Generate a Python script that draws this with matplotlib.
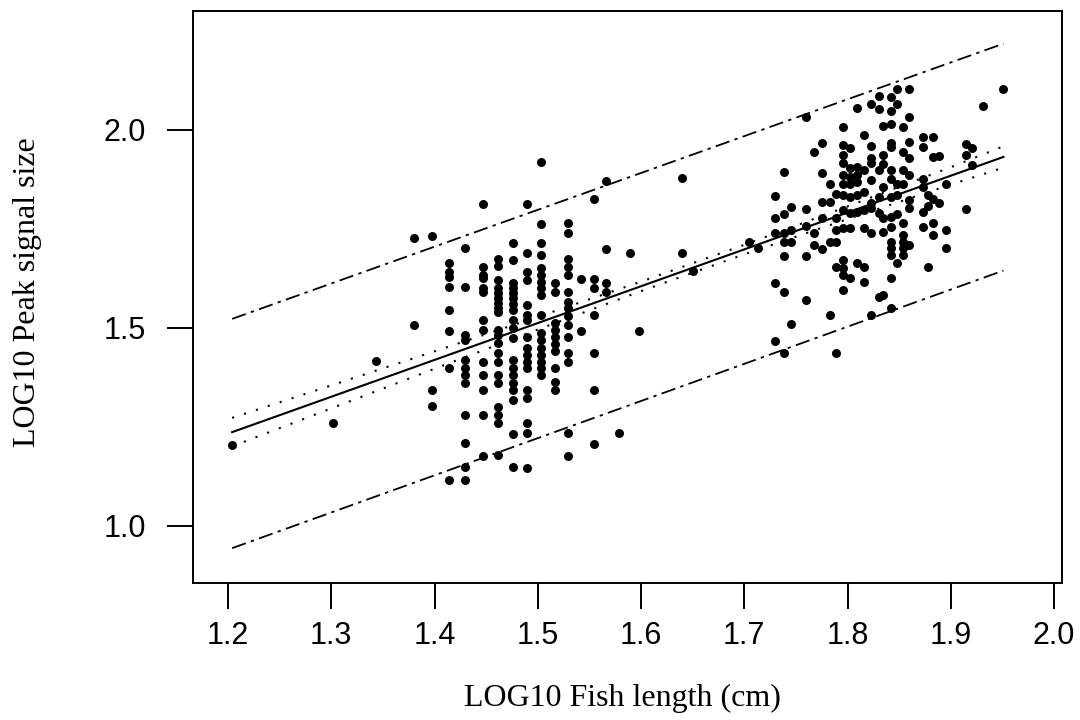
import matplotlib
matplotlib.use('Agg')
import matplotlib.pyplot as plt
import numpy as np

# log10 fish length columns and the log10 peak signal values read in each column
small_len = [1.204, 1.302, 1.343, 1.380, 1.398, 1.414, 1.430, 1.447, 1.461, 1.476,
             1.490, 1.503, 1.517, 1.529, 1.542, 1.554, 1.566, 1.579, 1.589, 1.598,
             1.640, 1.650]
small_sig = [
    [1.205],
    [1.260],
    [1.417],
    [1.727, 1.507],
    [1.732, 1.343, 1.303],
    [1.664, 1.641, 1.629, 1.604, 1.545, 1.492, 1.399, 1.116],
    [1.702, 1.604, 1.482, 1.470, 1.419, 1.400, 1.381, 1.361, 1.280, 1.210, 1.149, 1.116],
    [1.813, 1.655, 1.634, 1.626, 1.601, 1.591, 1.520, 1.495, 1.415, 1.381, 1.343, 1.280, 1.177],
    [1.674, 1.657, 1.621, 1.601, 1.588, 1.576, 1.563, 1.550, 1.540, 1.495, 1.482, 1.462,
     1.437, 1.414, 1.381, 1.361, 1.301, 1.280, 1.260, 1.179],
    [1.715, 1.672, 1.614, 1.601, 1.588, 1.576, 1.560, 1.545, 1.520, 1.500, 1.475, 1.419,
     1.400, 1.381, 1.362, 1.343, 1.318, 1.232, 1.149],
    [1.813, 1.689, 1.641, 1.621, 1.558, 1.533, 1.520, 1.477, 1.450, 1.432, 1.414, 1.398,
     1.343, 1.323, 1.260, 1.235, 1.146],
    [1.919, 1.763, 1.715, 1.684, 1.651, 1.634, 1.616, 1.601, 1.583, 1.533, 1.487, 1.470,
     1.450, 1.432, 1.414, 1.398, 1.381],
    [1.614, 1.591, 1.513, 1.495, 1.477, 1.460, 1.443, 1.399, 1.364, 1.343],
    [1.765, 1.740, 1.674, 1.654, 1.634, 1.591, 1.566, 1.550, 1.530, 1.508, 1.477, 1.437,
     1.414, 1.235, 1.177],
    [1.624, 1.492],
    [1.825, 1.624, 1.601, 1.533, 1.437, 1.343, 1.207],
    [1.870, 1.699, 1.614, 1.591],
    [1.235],
    [1.689],
    [1.493],
    [1.880, 1.689],
    [1.644],
]

large_len = [1.705, 1.713, 1.730, 1.738, 1.745, 1.760, 1.768, 1.775, 1.783, 1.789,
             1.796, 1.802, 1.809, 1.816, 1.823, 1.830, 1.834, 1.842, 1.848, 1.854,
             1.860, 1.873, 1.878, 1.883, 1.889, 1.895, 1.915, 1.921, 1.931, 1.951]
large_sig = [
    [1.716],
    [1.701],
    [1.833, 1.779, 1.741, 1.614, 1.467],
    [1.893, 1.787, 1.741, 1.716, 1.682, 1.592, 1.437],
    [1.806, 1.747, 1.716, 1.509],
    [2.032, 1.800, 1.758, 1.682, 1.571],
    [1.944, 1.741, 1.710],
    [1.968, 1.892, 1.819, 1.777, 1.699],
    [1.863, 1.819, 1.716, 1.533],
    [1.838, 1.777, 1.747, 1.716, 1.653, 1.437],
    [2.007, 1.962, 1.937, 1.916, 1.886, 1.864, 1.836, 1.798, 1.752, 1.672, 1.651, 1.634, 1.596],
    [1.954, 1.903, 1.882, 1.864, 1.832, 1.790, 1.752, 1.626],
    [2.056, 1.906, 1.886, 1.869, 1.836, 1.794, 1.665],
    [1.987, 1.899, 1.844, 1.798, 1.752, 1.655, 1.617],
    [2.065, 1.960, 1.929, 1.916, 1.874, 1.815, 1.802, 1.739, 1.533],
    [2.087, 2.053, 1.899, 1.832, 1.790, 1.579],
    [2.010, 1.937, 1.914, 1.857, 1.777, 1.743, 1.583],
    [2.084, 2.048, 2.014, 1.968, 1.956, 1.899, 1.876, 1.832, 1.781, 1.756, 1.718, 1.701,
     1.684, 1.626, 1.550],
    [2.103, 2.066, 1.864, 1.836, 1.788, 1.663],
    [2.008, 1.945, 1.899, 1.864, 1.764, 1.735, 1.718, 1.701, 1.684],
    [2.103, 2.032, 1.970, 1.929, 1.886, 1.823, 1.802, 1.710],
    [1.983, 1.956, 1.876, 1.857, 1.794, 1.756],
    [1.836, 1.808, 1.655],
    [1.983, 1.933, 1.825, 1.766, 1.735],
    [1.934, 1.815],
    [1.864, 1.747, 1.701],
    [1.965, 1.937, 1.801],
    [1.954, 1.912],
    [2.061],
    [2.103],
]

# regression line and bands
fit_x = [1.204, 1.951]
fit_y = [1.237, 1.932]
conf_x = [1.204, 1.3, 1.4, 1.5, 1.6, 1.7, 1.8, 1.9, 1.951]
conf_hi = [1.273, 1.355, 1.441, 1.528, 1.617, 1.710, 1.807, 1.906, 1.959]
conf_lo = [1.201, 1.297, 1.397, 1.496, 1.593, 1.686, 1.775, 1.862, 1.905]
pred_x = [1.204, 1.951]
pred_hi = [1.523, 2.218]
pred_lo = [0.944, 1.645]

xticks = [1.2, 1.3, 1.4, 1.5, 1.6, 1.7, 1.8, 1.9, 2.0]
yticks = [1.0, 1.5, 2.0]

xs, ys = [], []
for cols, sigs in [(small_len, small_sig), (large_len, large_sig)]:
    for x, col in zip(cols, sigs):
        for y in col:
            xs.append(x)
            ys.append(y)

fig = plt.figure(figsize=(10.8, 7.2), dpi=100)
ax = fig.add_axes([193 / 1080, 1 - 583 / 720, 869 / 1080, 572 / 720])

ax.scatter(xs, ys, s=42, color='black', linewidths=0, zorder=3)
ax.plot(fit_x, fit_y, color='black', lw=1.5)
ax.plot(conf_x, conf_hi, color='black', lw=1.5, linestyle=(0, (1, 5)))
ax.plot(conf_x, conf_lo, color='black', lw=1.5, linestyle=(0, (1, 5)))
ax.plot(pred_x, pred_hi, color='black', lw=1.3, linestyle=(0, (8, 3, 1.8, 3)))
ax.plot(pred_x, pred_lo, color='black', lw=1.3, linestyle=(0, (8, 3, 1.8, 3)))

ax.set_xlim(1.1661, 2.0077)
ax.set_ylim(0.856, 2.3005)
ax.set_xticks(xticks)
ax.set_yticks(yticks)
ax.set_xticklabels(['%.1f' % t for t in xticks], family='Liberation Sans', fontsize=22)
ax.set_yticklabels(['%.1f' % t for t in yticks], family='Liberation Sans', fontsize=22)
ax.tick_params(axis='both', direction='out', length=19, width=1.4, color='black')
ax.tick_params(axis='y', pad=15)
ax.tick_params(axis='x', pad=8)
for sp in ax.spines.values():
    sp.set_linewidth(1.4)

fig.text(622 / 1080, 1 - 698 / 720, 'LOG10 Fish length (cm)', family='Liberation Serif',
         fontsize=23, ha='center', va='center')
fig.text(28 / 1080, 1 - 292 / 720, 'LOG10 Peak signal size', family='Liberation Serif',
         fontsize=23, ha='center', va='center', rotation=90)

fig.savefig('out.png', dpi=100)
